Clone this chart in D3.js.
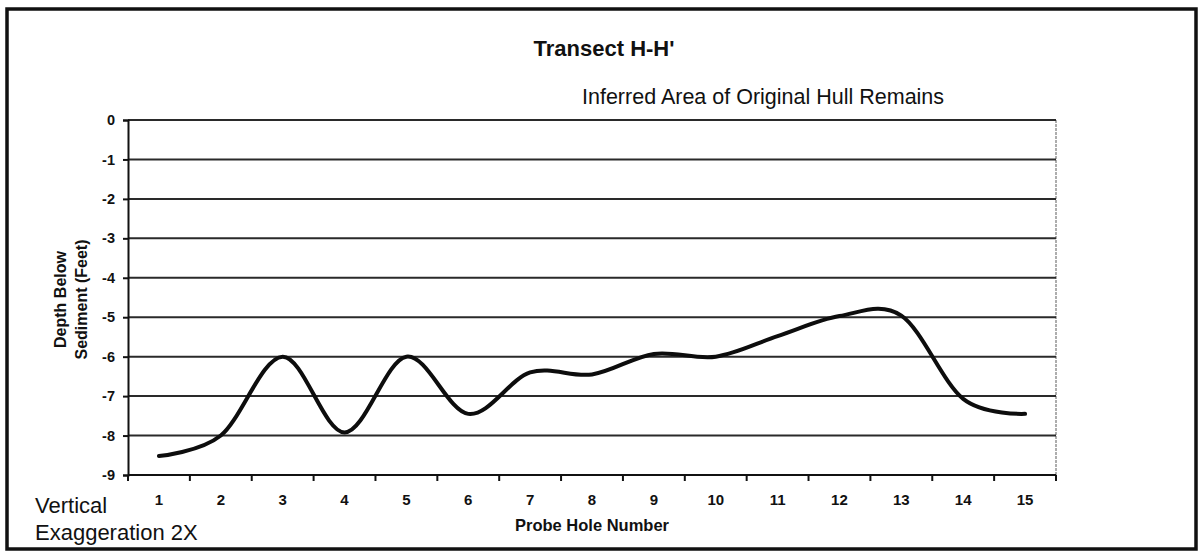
<!DOCTYPE html>
<html>
<head>
<meta charset="utf-8">
<script src="https://cdn.jsdelivr.net/npm/d3@7"></script>
<style>
  html, body { margin: 0; padding: 0; background: #fff; }
  svg { display: block; }
  text { font-family: "Liberation Sans", Arial, sans-serif; fill: #111; }
</style>
</head>
<body>
<svg id="chart" width="1199" height="553"></svg>
<script>
// Probe holes along transect H-H' and the sediment depth found at each
const holes = [1, 2, 3, 4, 5, 6, 7, 8, 9, 10, 11, 12, 13, 14, 15];
const depth = [-8.52, -8.0, -6.0, -7.92, -6.0, -7.45, -6.4, -6.45, -5.93, -6.0, -5.48, -4.97, -4.96, -7.07, -7.45];
const depthTicks = [0, -1, -2, -3, -4, -5, -6, -7, -8, -9];

const svg = d3.select("#chart");

// outer frame
svg.append("rect")
  .attr("x", 7).attr("y", 9)
  .attr("width", 1189).attr("height", 540)
  .attr("fill", "none").attr("stroke", "#111").attr("stroke-width", 3.5);

const plot = { left: 128, right: 1056, top: 120, bottom: 475 };

const x = d3.scaleBand().domain(holes).range([plot.left, plot.right]).padding(0);
const y = d3.scaleLinear().domain([-9, 0]).range([plot.bottom, plot.top]);
const cx = h => x(h) + x.bandwidth() / 2;

// right border of plot area
svg.append("line")
  .attr("x1", plot.right).attr("x2", plot.right)
  .attr("y1", plot.top).attr("y2", plot.bottom)
  .attr("stroke", "#777").attr("stroke-width", 1.2)
  .attr("stroke-dasharray", "3,1");

// horizontal gridlines
svg.append("g").selectAll("line")
  .data(depthTicks.filter(d => d > -9))
  .join("line")
  .attr("x1", plot.left).attr("x2", plot.right)
  .attr("y1", d => y(d)).attr("y2", d => y(d))
  .attr("stroke", "#2a2a2a").attr("stroke-width", 2);

// y axis (plain hyphen for the negative sign)
const yAxis = svg.append("g")
  .attr("transform", `translate(${plot.left},0)`)
  .call(d3.axisLeft(y).tickValues(depthTicks).tickSize(5).tickPadding(8).tickFormat(d => String(d)));
yAxis.select(".domain").attr("stroke", "#111").attr("stroke-width", 2);
yAxis.selectAll(".tick line").attr("stroke", "#111").attr("stroke-width", 2);
yAxis.selectAll(".tick text")
  .style("font-family", "'Liberation Sans', Arial, sans-serif")
  .style("font-size", "14.5px").style("font-weight", "bold").attr("fill", "#111");

// x axis: baseline, tick marks on category boundaries, labels centred in each band
const xAxis = svg.append("g");
xAxis.append("line")
  .attr("x1", plot.left).attr("x2", plot.right)
  .attr("y1", plot.bottom).attr("y2", plot.bottom)
  .attr("stroke", "#111").attr("stroke-width", 2.2);
const bounds = holes.map(h => x(h)).concat([x(holes[holes.length - 1]) + x.bandwidth()]);
xAxis.selectAll("line.tk")
  .data(bounds)
  .join("line").attr("class", "tk")
  .attr("x1", d => d).attr("x2", d => d)
  .attr("y1", plot.bottom).attr("y2", plot.bottom + 6)
  .attr("stroke", "#111").attr("stroke-width", 2);
xAxis.selectAll("text")
  .data(holes)
  .join("text")
  .attr("x", d => cx(d)).attr("y", 505)
  .attr("text-anchor", "middle")
  .style("font-size", "15px").style("font-weight", "bold")
  .text(d => d);

// depth profile, smoothed line
const line = d3.line()
  .x((d, i) => cx(holes[i]))
  .y(d => y(d))
  .curve(d3.curveCardinal.tension(0));
svg.append("path")
  .datum(depth)
  .attr("d", line)
  .attr("fill", "none")
  .attr("stroke", "#0d0d0d")
  .attr("stroke-width", 4)
  .attr("stroke-linejoin", "round")
  .attr("stroke-linecap", "round");

// titles
svg.append("text")
  .attr("x", 604).attr("y", 56)
  .attr("text-anchor", "middle")
  .style("font-size", "22px").style("font-weight", "bold")
  .text("Transect H-H'");

svg.append("text")
  .attr("x", 582).attr("y", 104)
  .style("font-size", "21.5px")
  .text("Inferred Area of Original Hull Remains");

svg.append("text")
  .attr("x", cx(8)).attr("y", 531)
  .attr("text-anchor", "middle")
  .style("font-size", "16.5px").style("font-weight", "bold")
  .text("Probe Hole Number");

// y axis title, two rotated lines
const midY = (plot.top + plot.bottom) / 2 + 2;
svg.append("text")
  .attr("transform", `translate(65.5,${midY}) rotate(-90)`)
  .attr("text-anchor", "middle")
  .style("font-size", "16px").style("font-weight", "bold")
  .text("Depth Below");
svg.append("text")
  .attr("transform", `translate(87,${midY}) rotate(-90)`)
  .attr("text-anchor", "middle")
  .style("font-size", "16px").style("font-weight", "bold")
  .text("Sediment (Feet)");

// note on scale
svg.append("text")
  .attr("x", 35).attr("y", 513)
  .style("font-size", "22px")
  .text("Vertical");
svg.append("text")
  .attr("x", 35).attr("y", 540)
  .style("font-size", "22px")
  .text("Exaggeration 2X");
</script>
</body>
</html>
